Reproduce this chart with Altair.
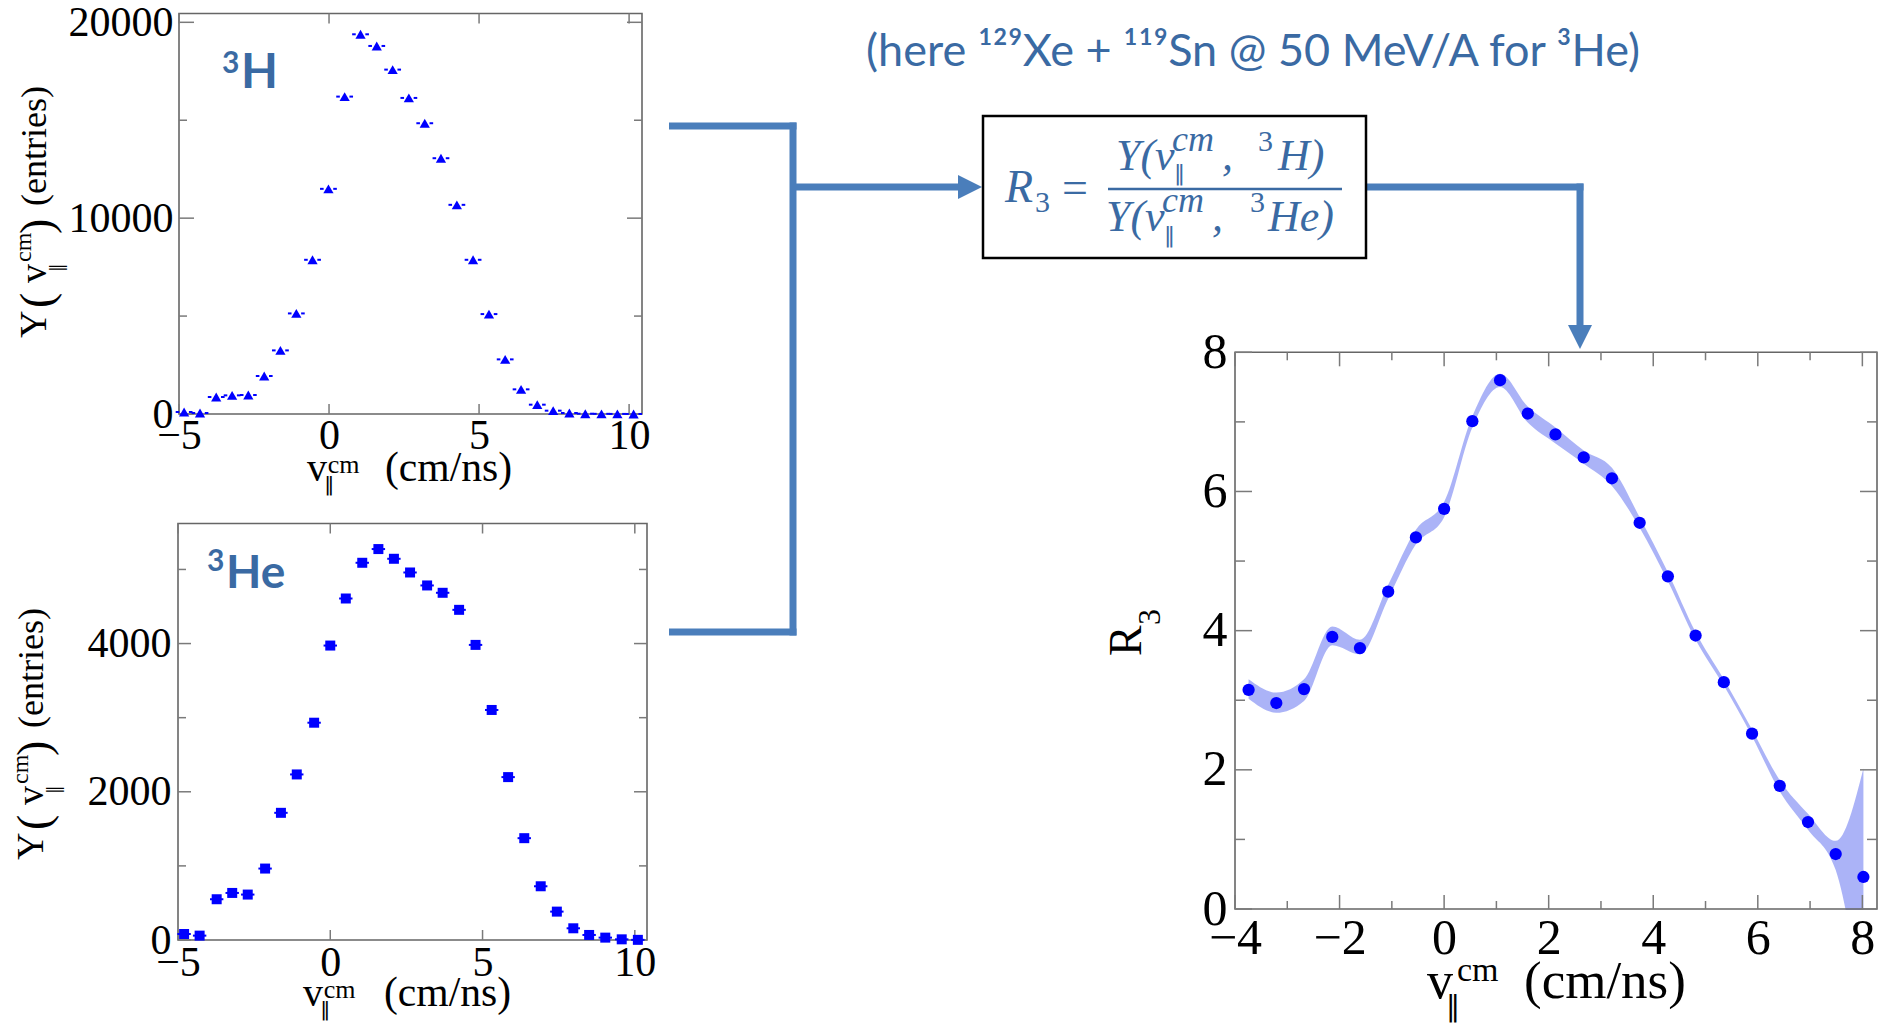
import altair as alt
import pandas as pd

W, H = 1884, 1024

# ---------------- data ----------------
h3_x = [-4.83, -4.30, -3.76, -3.23, -2.69, -2.16, -1.62, -1.09, -0.55, -0.02,
        0.52, 1.05, 1.59, 2.12, 2.66, 3.19, 3.73, 4.26, 4.80, 5.33,
        5.87, 6.40, 6.94, 7.47, 8.01, 8.54, 9.08, 9.61, 10.15]
h3_y = [102, 51, 867, 952, 969, 1939, 3248, 5136, 7874, 11497,
        16207, 19388, 18793, 17585, 16139, 14847, 13061, 10680, 7874, 5102,
        2789, 1259, 476, 170, 51, 15, 8, 4, 2]

he3_x = [-4.80, -4.29, -3.73, -3.22, -2.71, -2.14, -1.62, -1.10, -0.53, 0.00,
         0.51, 1.05, 1.58, 2.09, 2.62, 3.18, 3.69, 4.23, 4.77, 5.30,
         5.84, 6.37, 6.91, 7.44, 7.98, 8.50, 9.03, 9.57, 10.10]
he3_y = [81, 59, 550, 635, 613, 964, 1716, 2234, 2932, 3973,
         4608, 5090, 5275, 5144, 4959, 4784, 4685, 4455, 3982, 3104,
         2198, 1374, 725, 383, 158, 68, 32, 9, 2]

r3_x = [-3.74, -3.21, -2.68, -2.14, -1.61, -1.07, -0.54, 0.00, 0.54, 1.07,
        1.60, 2.13, 2.67, 3.21, 3.74, 4.28, 4.81, 5.35, 5.89, 6.42,
        6.96, 7.49, 8.02]
r3_y = [3.15, 2.96, 3.16, 3.91, 3.75, 4.56, 5.34, 5.75, 7.01, 7.60,
        7.12, 6.82, 6.49, 6.19, 5.55, 4.78, 3.93, 3.26, 2.52, 1.77,
        1.25, 0.79, 0.46]
r3_lo = [3.02, 2.82, 2.99, 3.79, 3.66, 4.46, 5.24, 5.63, 6.92, 7.50,
         6.99, 6.69, 6.40, 6.08, 5.48, 4.71, 3.87, 3.21, 2.48, 1.69,
         1.14, 0.56, -1.50]
r3_hi = [3.30, 3.11, 3.30, 4.06, 3.87, 4.66, 5.45, 5.85, 7.08, 7.69,
         7.22, 6.92, 6.59, 6.34, 5.63, 4.84, 3.98, 3.30, 2.58, 1.85,
         1.37, 0.98, 2.02]

# tick values / labels
lr_xlabels = [-5, 0, 5, 10]
h3_ylabels = [0, 10000, 20000]
h3_yminor = [5000, 15000]
he3_ylabels = [0, 2000, 4000]
he3_yminor = [1000, 3000, 5000]
r3_xlabels = [-4, -2, 0, 2, 4, 6, 8]
r3_xminor = [-3, -1, 1, 3, 5, 7]
r3_ylabels = [0, 2, 4, 6, 8]
r3_yminor = [1, 3, 5, 7]

# ---------------- styling / layout ----------------
SERIF = "Liberation Serif"
SANS = "Lato"
SYM = "DejaVu Sans"
BLUE = "#0000ff"
TXT = "#3a6aa3"
LINE = "#4a7ebb"
BAND = "#a2abf6"
FRAME = "#666666"
TICK = "#7a7a7a"

P_H3 = dict(xdom=[-5, 10.43], ydom=[0, 20450], xr=[179, 642], yr=[414, 13.5])
P_HE = dict(xdom=[-5, 10.40], ydom=[0, 5620], xr=[178, 647], yr=[940, 523.5])
P_R3 = dict(xdom=[-4, 8.28], ydom=[0, 8], xr=[1235, 1877], yr=[909, 352.3])

ONE = pd.DataFrame({"k": [0]})


def xs(p):
    return alt.Scale(domain=p["xdom"], range=p["xr"], nice=False, zero=False)


def ys(p):
    return alt.Scale(domain=p["ydom"], range=p["yr"], nice=False, zero=False)


def frame(p, xvals, yvals, fs, xpad, ypad):
    df = pd.DataFrame({"x0": [p["xdom"][0]], "x1": [p["xdom"][1]],
                       "y0": [p["ydom"][0]], "y1": [p["ydom"][1]]})
    common = dict(ticks=False, domain=False, grid=False, title=None,
                  labelFont=SERIF, labelFontSize=fs, labelColor="black",
                  labelFlush=False, labelOverlap=False, format="d", zindex=2)
    xa = alt.Axis(orient="bottom", offset=p["yr"][0] - H, values=xvals,
                  labelPadding=xpad, **common)
    ya = alt.Axis(orient="left", offset=-p["xr"][0], values=yvals,
                  labelPadding=ypad, **common)
    return alt.Chart(df).mark_rect(fillOpacity=0, stroke=FRAME, strokeWidth=1.6).encode(
        x=alt.X("x0:Q", scale=xs(p), axis=xa), x2="x1:Q",
        y=alt.Y("y0:Q", scale=ys(p), axis=ya), y2="y1:Q")


def ticks(p, xsets, ysets):
    out = []
    x0, x1 = p["xr"]
    yb, yt = p["yr"]
    for vals, L in xsets:
        base = alt.Chart(pd.DataFrame({"v": vals})).mark_rule(color=TICK, strokeWidth=1.5)
        X = alt.X("v:Q", scale=xs(p), axis=None)
        out.append(base.encode(x=X, y=alt.value(yb), y2=alt.value(yb - L)))
        out.append(base.encode(x=X, y=alt.value(yt), y2=alt.value(yt + L)))
    for vals, L in ysets:
        base = alt.Chart(pd.DataFrame({"v": vals})).mark_rule(color=TICK, strokeWidth=1.5)
        Y = alt.Y("v:Q", scale=ys(p), axis=None)
        out.append(base.encode(y=Y, x=alt.value(x0), x2=alt.value(x0 + L)))
        out.append(base.encode(y=Y, x=alt.value(x1), x2=alt.value(x1 - L)))
    return out


def txt(s, x, y, size, font=SERIF, color="black", angle=0, style="normal",
        weight="normal", align="left"):
    mk = dict(text=s, fontSize=size, font=font, color=color, align=align,
              baseline="alphabetic", fontStyle=style, fontWeight=weight)
    if angle:
        mk["angle"] = angle
    return alt.Chart(ONE).mark_text(**mk).encode(x=alt.value(x), y=alt.value(y))


def hline(x1, x2, y, w=7, color=LINE):
    return alt.Chart(ONE).mark_rule(color=color, strokeWidth=w).encode(
        x=alt.value(x1), x2=alt.value(x2), y=alt.value(y))


def vline(x, y1, y2, w=7, color=LINE):
    return alt.Chart(ONE).mark_rule(color=color, strokeWidth=w).encode(
        x=alt.value(x), y=alt.value(y1), y2=alt.value(y2))


def arrowhead(x, y, path, size):
    return alt.Chart(ONE).mark_point(shape=path, filled=True, size=size, color=LINE,
                                     opacity=1, strokeWidth=0).encode(
        x=alt.value(x), y=alt.value(y))


def ytitle(S, B):
    # rotated "Y( v‖^cm ) (entries)"
    return [
        txt("Y", B, S, 38, angle=270),
        txt("(", B + 6, S - 30, 46, angle=270),
        txt("v", B, S - 55, 38, angle=270),
        txt("‖", B + 17, S - 66, 17, font=SYM, angle=270),
        txt("cm", B - 15, S - 76, 24, angle=270),
        txt(")", B + 6, S - 104, 46, angle=270),
        txt("(entries)", B, S - 132, 36, angle=270),
    ]


def xtitle(x, y, big, sup, sub, gap):
    return [
        txt("v", x, y, big),
        txt("cm", x + big * 0.52, y - big * 0.2, sup),
        txt("‖", x + big * 0.43, y + big * 0.25, sub, font=SYM),
        txt("(cm/ns)", x + gap, y, big * 1.04),
    ]


layers = []

# ---------------- 3H panel ----------------
df_h3 = pd.DataFrame({"x": h3_x, "y": h3_y})
XH, YH = xs(P_H3), ys(P_H3)
layers.append(frame(P_H3, lr_xlabels, h3_ylabels, 42, 1, 6))
layers += ticks(P_H3, [(lr_xlabels, 10)], [(h3_ylabels, 15), (h3_yminor, 8)])
errh = alt.Chart(df_h3).transform_calculate(
    a="datum.x - 0.28", b="datum.x - 0.16", c="datum.x + 0.16", d="datum.x + 0.28"
).mark_rule(color=BLUE, strokeWidth=2)
layers.append(errh.encode(x=alt.X("a:Q", scale=XH, axis=None), x2="b:Q",
                          y=alt.Y("y:Q", scale=YH, axis=None)))
layers.append(errh.encode(x=alt.X("c:Q", scale=XH, axis=None), x2="d:Q",
                          y=alt.Y("y:Q", scale=YH, axis=None)))
layers.append(alt.Chart(df_h3).mark_point(shape="triangle-up", filled=True, size=105,
                                          color=BLUE, opacity=1).encode(
    x=alt.X("x:Q", scale=XH, axis=None), y=alt.Y("y:Q", scale=YH, axis=None)))
layers += ytitle(338, 46)
layers += xtitle(307, 481, 40, 26, 20, 78)
layers.append(txt("3", 222, 73, 30, font=SANS, color=TXT, weight="bold"))
layers.append(txt("H", 241, 88, 48, font=SANS, color=TXT, weight="bold"))

# ---------------- 3He panel ----------------
df_he = pd.DataFrame({"x": he3_x, "y": he3_y})
XE, YE = xs(P_HE), ys(P_HE)
layers.append(frame(P_HE, lr_xlabels, he3_ylabels, 42, 2, 7))
layers += ticks(P_HE, [(lr_xlabels, 10)], [(he3_ylabels, 13), (he3_yminor, 8)])
layers.append(alt.Chart(df_he).transform_calculate(
    a="datum.x - 0.22", b="datum.x + 0.22"
).mark_rule(color=BLUE, strokeWidth=2).encode(
    x=alt.X("a:Q", scale=XE, axis=None), x2="b:Q", y=alt.Y("y:Q", scale=YE, axis=None)))
layers.append(alt.Chart(df_he).mark_point(shape="square", filled=True, size=100,
                                          color=BLUE, opacity=1).encode(
    x=alt.X("x:Q", scale=XE, axis=None), y=alt.Y("y:Q", scale=YE, axis=None)))
layers += ytitle(860, 43)
layers += xtitle(303, 1006, 40, 26, 20, 81)
layers.append(txt("3", 207, 571, 30, font=SANS, color=TXT, weight="bold"))
layers.append(txt("He", 226, 588, 46, font=SANS, color=TXT, weight="bold"))

# ---------------- R3 panel ----------------
df_r3 = pd.DataFrame({"x": r3_x, "y": r3_y, "lo": r3_lo, "hi": r3_hi})
XR, YR = xs(P_R3), ys(P_R3)
layers.append(alt.Chart(df_r3).mark_area(color=BAND, opacity=0.9, interpolate="monotone").encode(
    x=alt.X("x:Q", scale=XR, axis=None), y=alt.Y("lo:Q", scale=YR, axis=None), y2="hi:Q"))
# white mask below the R3 frame (the band is clipped at 0 there)
layers.append(alt.Chart(ONE).mark_rect(color="white").encode(
    x=alt.value(1236), x2=alt.value(1878), y=alt.value(910), y2=alt.value(1024)))
layers.append(frame(P_R3, r3_xlabels, r3_ylabels, 50, 4, 8))
layers += ticks(P_R3, [(r3_xlabels, 14), (r3_xminor, 8)], [(r3_ylabels, 17), (r3_yminor, 10)])
layers.append(alt.Chart(df_r3).mark_point(shape="circle", filled=True, size=150,
                                          color=BLUE, opacity=1).encode(
    x=alt.X("x:Q", scale=XR, axis=None), y=alt.Y("y:Q", scale=YR, axis=None)))
layers.append(txt("R", 1141, 656, 46, angle=270))
layers.append(txt("3", 1160, 625, 32, angle=270))
layers += [
    txt("v", 1427, 998, 52),
    txt("cm", 1457, 981, 34),
    txt("‖", 1446, 1016, 28, font=SYM),
    txt("(cm/ns)", 1524, 998, 53),
]

# ---------------- connectors & arrows ----------------
layers += [
    hline(669, 796.5, 126),
    hline(669, 796.5, 632),
    vline(793, 122.5, 635.5),
    hline(793, 962, 187),
    arrowhead(970, 187, "M -1 -1 L 1 0 L -1 1 Z", 576),
    hline(1366, 1583.5, 187),
    vline(1580, 183.5, 328),
    arrowhead(1580, 337, "M -1 -1 L 1 -1 L 0 1 Z", 576),
]

# ---------------- formula box ----------------
layers.append(alt.Chart(ONE).mark_rect(fill="white", stroke="black", strokeWidth=2.5).encode(
    x=alt.value(983), x2=alt.value(1366), y=alt.value(116), y2=alt.value(258)))
layers += [
    txt("R", 1005, 202, 46, color=TXT, style="italic"),
    txt("3", 1035, 212, 30, color=TXT),
    txt("=", 1062, 203, 46, color=TXT),
    alt.Chart(ONE).mark_rule(color=TXT, strokeWidth=2.5).encode(
        x=alt.value(1108), x2=alt.value(1342), y=alt.value(189)),
    # numerator
    txt("Y(v", 1116, 170, 44, color=TXT, style="italic"),
    txt("cm", 1172, 151, 36, color=TXT, style="italic"),
    txt("‖", 1174, 180, 22, color=TXT, font=SYM),
    txt(",", 1222, 170, 44, color=TXT, style="italic"),
    txt("3", 1258, 151, 30, color=TXT),
    txt("H)", 1278, 170, 44, color=TXT, style="italic"),
    # denominator
    txt("Y(v", 1106, 231, 44, color=TXT, style="italic"),
    txt("cm", 1162, 212, 36, color=TXT, style="italic"),
    txt("‖", 1164, 242, 22, color=TXT, font=SYM),
    txt(",", 1212, 231, 44, color=TXT, style="italic"),
    txt("3", 1250, 212, 30, color=TXT),
    txt("He)", 1268, 231, 44, color=TXT, style="italic"),
]

# ---------------- heading ----------------
layers.append(txt("(here ¹²⁹Xe + ¹¹⁹Sn @ 50 MeV/A for ³He)", 1253, 66, 45,
                  font=SANS, color=TXT, align="center"))

chart = alt.layer(*layers).resolve_scale(
    x="independent", y="independent"
).resolve_axis(
    x="independent", y="independent"
).properties(
    width=W, height=H, padding=0, background="white",
    autosize=alt.AutoSizeParams(type="none"),
).configure_view(stroke=None)

chart.save("out.html", embed_options={"renderer": "svg", "actions": False})
